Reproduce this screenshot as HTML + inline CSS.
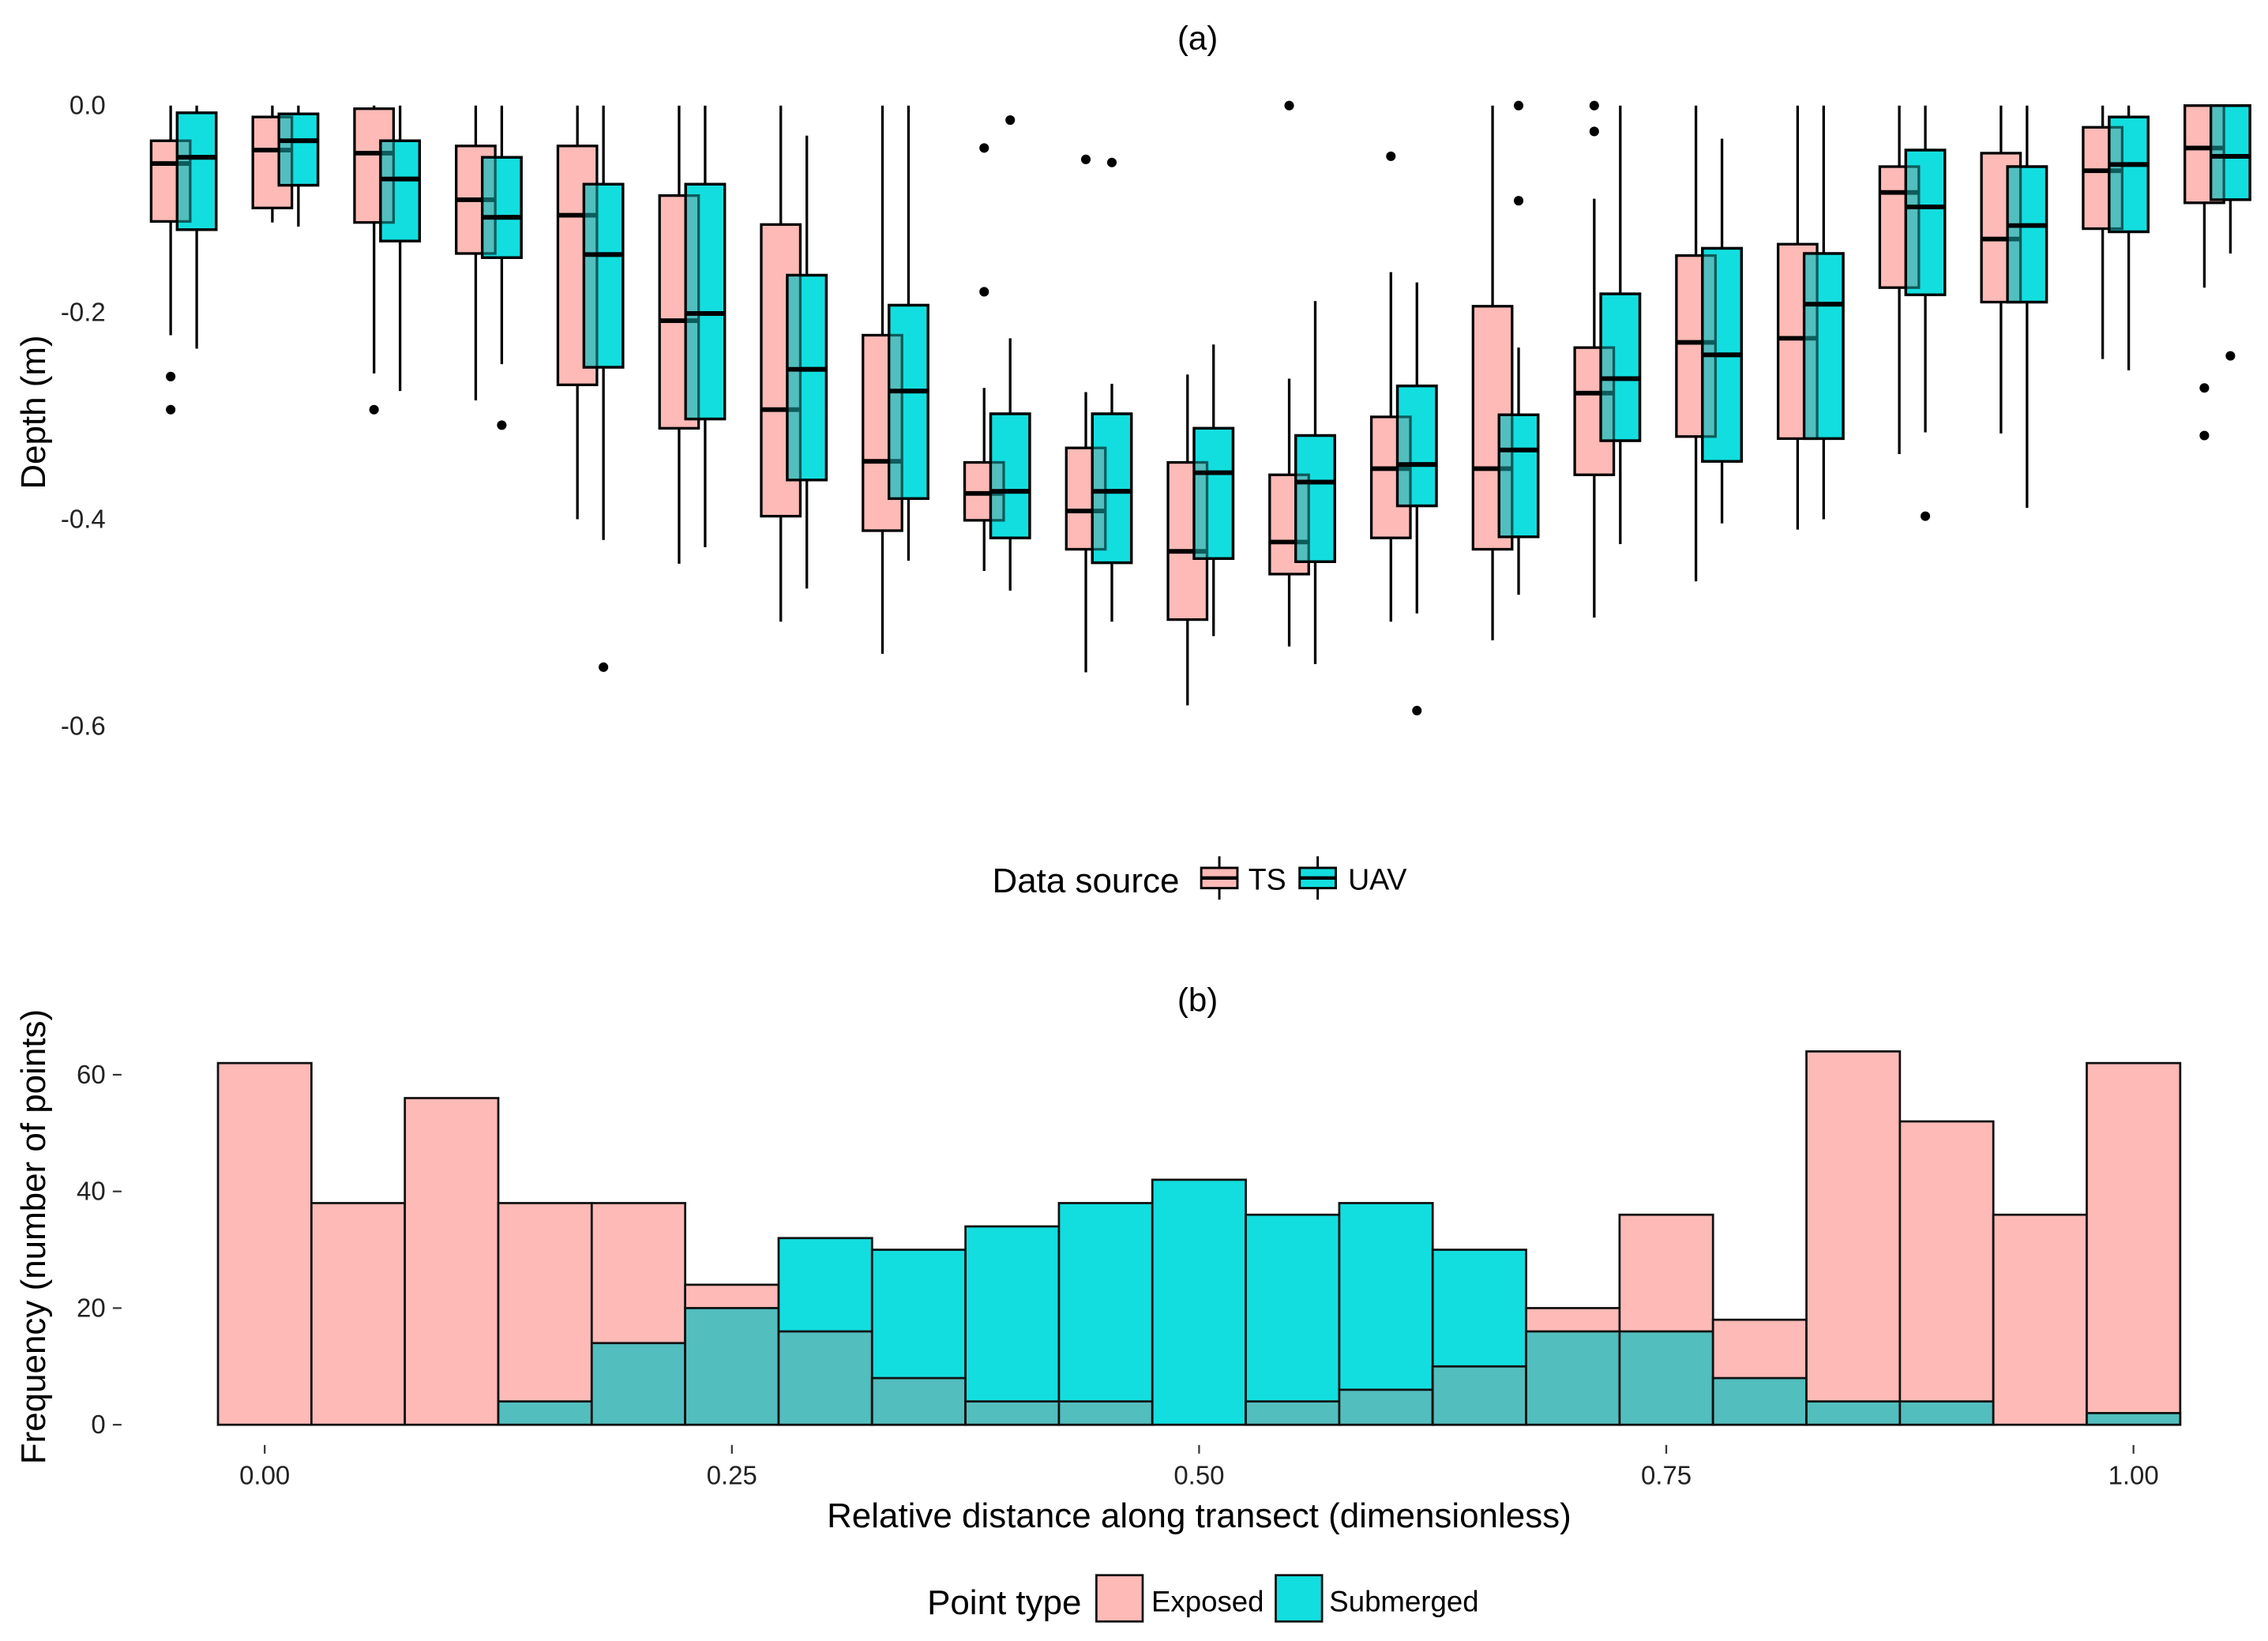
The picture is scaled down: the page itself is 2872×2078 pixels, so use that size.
<!DOCTYPE html>
<html><head><meta charset="utf-8"><style>
html,body{margin:0;padding:0;background:#fff;}
svg{display:block;font-family:"Liberation Sans",sans-serif;}
</style></head><body>
<svg id="chart" width="2872" height="2078" viewBox="0 0 1568 1134.5" xmlns="http://www.w3.org/2000/svg">
<rect width="1568" height="1134.5" fill="#fff"/>
<g id="pa"></g>
<g id="pb"></g>
</svg>
<script>
// ---- Panel (a) data: [whiskerLow, q1, median, q3, whiskerHigh]
const tsStats = [
[-0.222,-0.112,-0.056,-0.034,0],[-0.113,-0.099,-0.043,-0.011,0],[-0.259,-0.113,-0.046,-0.003,0],
[-0.285,-0.143,-0.091,-0.039,0],[-0.4,-0.27,-0.106,-0.039,0],[-0.443,-0.312,-0.208,-0.087,0],
[-0.499,-0.397,-0.294,-0.115,0],[-0.53,-0.411,-0.344,-0.222,0],[-0.45,-0.401,-0.375,-0.345,-0.273],
[-0.548,-0.429,-0.392,-0.331,-0.277],[-0.58,-0.497,-0.431,-0.345,-0.26],[-0.523,-0.453,-0.422,-0.357,-0.264],
[-0.499,-0.418,-0.351,-0.301,-0.161],[-0.517,-0.429,-0.351,-0.194,0],[-0.495,-0.357,-0.278,-0.234,-0.09],
[-0.46,-0.32,-0.229,-0.145,0],[-0.41,-0.322,-0.225,-0.134,0],[-0.337,-0.176,-0.084,-0.059,0],
[-0.317,-0.19,-0.129,-0.046,0],[-0.245,-0.119,-0.063,-0.021,0],[-0.176,-0.094,-0.041,0,0]];
const uavStats = [
[-0.235,-0.12,-0.05,-0.007,0],[-0.117,-0.077,-0.034,-0.008,0],[-0.276,-0.131,-0.071,-0.034,0],
[-0.25,-0.147,-0.108,-0.05,0],[-0.42,-0.253,-0.144,-0.076,0],[-0.427,-0.303,-0.201,-0.076,0],
[-0.467,-0.362,-0.255,-0.164,-0.029],[-0.44,-0.38,-0.276,-0.193,0],[-0.469,-0.418,-0.373,-0.298,-0.225],
[-0.499,-0.442,-0.373,-0.298,-0.269],[-0.513,-0.438,-0.355,-0.312,-0.231],[-0.54,-0.441,-0.364,-0.319,-0.189],
[-0.491,-0.387,-0.347,-0.271,-0.171],[-0.473,-0.417,-0.333,-0.299,-0.234],[-0.424,-0.324,-0.264,-0.182,0],
[-0.404,-0.344,-0.241,-0.138,-0.032],[-0.4,-0.322,-0.192,-0.143,0],[-0.316,-0.183,-0.098,-0.043,0],
[-0.389,-0.19,-0.116,-0.059,0],[-0.256,-0.122,-0.057,-0.011,0],[-0.143,-0.091,-0.049,0,0]];
const tsOutliers = [[-0.262,-0.294],[],[-0.294],[],[],[],[],[],[-0.041,-0.18],[-0.052],[],[0.0],[-0.049],[],[0.0,-0.025],[],[],[],[],[],[-0.273,-0.319]];
const uavOutliers = [[],[],[],[-0.309],[-0.543],[],[],[],[-0.014],[-0.055],[],[],[-0.585],[0.0,-0.092],[],[],[],[-0.397],[],[],[-0.242]];
const depthTicks = [0,-0.2,-0.4,-0.6];
const depthTickLabels = ["0.0","-0.2","-0.4","-0.6"];
// ---- Panel (b) data
const binCenters = [0,0.05,0.1,0.15,0.2,0.25,0.3,0.35,0.4,0.45,0.5,0.55,0.6,0.65,0.7,0.75,0.8,0.85,0.9,0.95,1.0];
const exposedCounts = [62,38,56,38,38,24,16,8,4,4,0,4,6,10,20,36,18,64,52,36,62];
const submergedCounts = [0,0,0,4,14,20,32,30,34,38,42,36,38,30,16,16,8,4,4,0,2];
const freqTicks = [0,20,40,60];
const distTicks = [0,0.25,0.5,0.75,1.0];
const distTickLabels = ["0.00","0.25","0.50","0.75","1.00"];

const NS="http://www.w3.org/2000/svg";
const svg=document.getElementById('chart');
const pa=document.getElementById('pa'), pb=document.getElementById('pb');
function mk(tag,attrs,parent){const e=document.createElementNS(NS,tag);for(const k in attrs)e.setAttribute(k,attrs[k]);parent.appendChild(e);return e;}
const PINK="#FDBAB7", CYAN="#13DEDF", OVER="#53BEBE", DARKL="#0d5c5c";

const yA=v=>73-v*715;
const gx=i=>127+i*70.3;
const xB=v=>183+v*1292;
const yB=c=>985-c*4.033;

let t=mk('text',{x:828,y:34,'text-anchor':'middle','font-size':23},pa);t.textContent='(a)';


t=mk('text',{x:31,y:285,'text-anchor':'middle','font-size':24,transform:'rotate(-90 31 285)'},pa);t.textContent='Depth (m)';


depthTicks.forEach((v,i)=>{
  const e=mk('text',{x:73,y:yA(v)+6,'text-anchor':'end','font-size':18,fill:'#222'},pa);e.textContent=depthTickLabels[i];
  
  
});
const HW=13.5, OFF=9;
const defs=mk('defs',{},svg);
function drawBox(i,s,cx,fill,grp){
  const g=mk('g',{},pa);
  
  
  mk('line',{x1:cx,x2:cx,y1:yA(s[4]),y2:yA(s[3]),stroke:'#000','stroke-width':1.8},g);
  mk('line',{x1:cx,x2:cx,y1:yA(s[1]),y2:yA(s[0]),stroke:'#000','stroke-width':1.8},g);
  mk('rect',{x:cx-HW,y:yA(s[3]),width:2*HW,height:yA(s[1])-yA(s[3]),fill:fill,stroke:'#000','stroke-width':1.8},g);
  mk('line',{x1:cx-HW,x2:cx+HW,y1:yA(s[2]),y2:yA(s[2]),stroke:'#000','stroke-width':3.2},g);
  return g;
}
for(let i=0;i<tsStats.length;i++){
  const cT=gx(i)-OFF, cU=gx(i)+OFF, s=tsStats[i], u=uavStats[i];
  drawBox(i,s,cT,PINK,'ts');
  drawBox(i,u,cU,CYAN,'uav');
  const cp=mk('clipPath',{id:'c'+i},defs);
  mk('rect',{x:cU-HW,y:yA(u[3]),width:2*HW,height:yA(u[1])-yA(u[3])},cp);
  const og=mk('g',{'clip-path':'url(#c'+i+')'},pa);
  
  
  mk('rect',{x:cT-HW,y:yA(s[3]),width:2*HW,height:yA(s[1])-yA(s[3]),fill:OVER,stroke:DARKL,'stroke-width':1.8},og);
  mk('line',{x1:cT-HW,x2:cT+HW,y1:yA(s[2]),y2:yA(s[2]),stroke:DARKL,'stroke-width':3.2},og);
  mk('rect',{x:cU-HW,y:yA(u[3]),width:2*HW,height:yA(u[1])-yA(u[3]),fill:'none',stroke:'#000','stroke-width':1.8},pa);
  mk('line',{x1:cU-HW,x2:cU+HW,y1:yA(u[2]),y2:yA(u[2]),stroke:'#000','stroke-width':3.2},pa);
  tsOutliers[i].forEach(v=>{const c=mk('circle',{cx:cT,cy:yA(v),r:3.3,fill:'#000'},pa);
    
    });
  uavOutliers[i].forEach(v=>{const c=mk('circle',{cx:cU,cy:yA(v),r:3.3,fill:'#000'},pa);
    
    });
}
const la=mk('g',{},pa);


t=mk('text',{x:686,y:617,'font-size':24},la);t.textContent='Data source';
[[843,PINK,'TS',863],[911,CYAN,'UAV',932]].forEach(k=>{
  const g=mk('g',{},la);
  
  
  mk('line',{x1:k[0],x2:k[0],y1:592,y2:622,stroke:'#000','stroke-width':1.6},g);
  mk('rect',{x:k[0]-12.5,y:600,width:25,height:14,fill:k[1],stroke:'#000','stroke-width':1.6},g);
  mk('line',{x1:k[0]-12.5,x2:k[0]+12.5,y1:607,y2:607,stroke:'#000','stroke-width':2.4},g);
  const tt=mk('text',{x:k[3],y:615,'font-size':20.5},g);tt.textContent=k[2];
});

t=mk('text',{x:828,y:699,'text-anchor':'middle','font-size':23},pb);t.textContent='(b)';


t=mk('text',{x:31,y:855,'text-anchor':'middle','font-size':24,transform:'rotate(-90 31 855)'},pb);t.textContent='Frequency (number of points)';


t=mk('text',{x:829,y:1056,'text-anchor':'middle','font-size':24},pb);t.textContent='Relative distance along transect (dimensionless)';


freqTicks.forEach(v=>{
  mk('line',{x1:78,x2:84,y1:yB(v),y2:yB(v),stroke:'#333','stroke-width':1.2},pb);
  const e=mk('text',{x:73,y:yB(v)+6,'text-anchor':'end','font-size':18,fill:'#222'},pb);e.textContent=String(v);
  
  
});
distTicks.forEach((v,i)=>{
  mk('line',{x1:xB(v),x2:xB(v),y1:999,y2:1005,stroke:'#333','stroke-width':1.2},pb);
  const e=mk('text',{x:xB(v),y:1026,'text-anchor':'middle','font-size':18,fill:'#222'},pb);e.textContent=distTickLabels[i];
  
  
});
const bw=0.05*1292;
binCenters.forEach((c,i)=>{
  const x0=xB(c)-bw/2, e=exposedCounts[i], s=submergedCounts[i], m=Math.min(e,s);
  if(e>0){const r=mk('rect',{x:x0,y:yB(e),width:bw,height:yB(0)-yB(e),fill:PINK,stroke:'#111','stroke-width':1.5},pb);
    
    }
  if(s>0){const r=mk('rect',{x:x0,y:yB(s),width:bw,height:yB(0)-yB(s),fill:s>e?CYAN:OVER,stroke:'#111','stroke-width':1.5},pb);
    
    }
  if(m>0&&s>e){const r=mk('rect',{x:x0,y:yB(m),width:bw,height:yB(0)-yB(m),fill:OVER,stroke:'#111','stroke-width':1.5},pb);
    
    }
});
const lb=mk('g',{},pb);


t=mk('text',{x:641,y:1116,'font-size':24},lb);t.textContent='Point type';
[[758,PINK,'Exposed',796],[882,CYAN,'Submerged',919]].forEach(k=>{
  const g=mk('g',{},lb);
  
  
  mk('rect',{x:k[0],y:1089,width:32,height:32,fill:k[1],stroke:'#111','stroke-width':1.5},g);
  const tt=mk('text',{x:k[3],y:1114,'font-size':20},g);tt.textContent=k[2];
});
</script>
</body></html>
